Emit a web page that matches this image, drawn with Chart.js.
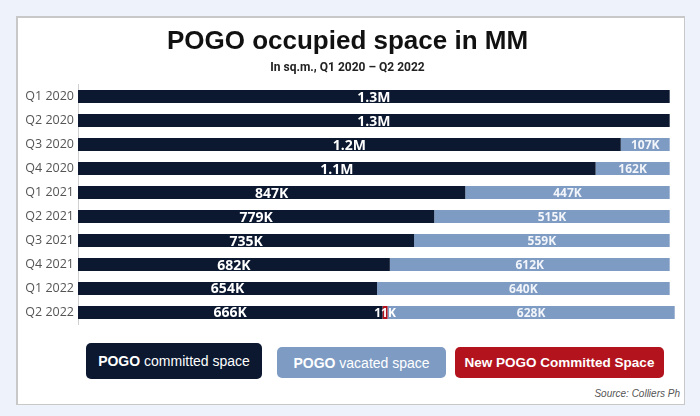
<!DOCTYPE html>
<html>
<head>
<meta charset="utf-8">
<script src="https://cdn.jsdelivr.net/npm/chart.js@4"></script>
<style>
  body { margin: 0; background: #eef2fa; width: 700px; height: 416px; position: relative; overflow: hidden; font-family: "Liberation Sans", Arial, sans-serif; }
  #card { position: absolute; left: 16px; top: 16px; width: 666px; height: 386px; background: #fff; border: 1px solid #c8c8c8; border-top-width: 2px; border-left-width: 2px; }
  #wrap { position: absolute; left: 0; top: 0; width: 666px; height: 318px; }
  .leg { position: absolute; color: #fff; display: flex; align-items: center; justify-content: center; border-radius: 5px; font-size: 14px; }
  #src { position: absolute; right: 4px; top: 370px; font-size: 10px; font-style: italic; color: #555; }
</style>
</head>
<body>
<div id="card">
  <div id="wrap"><canvas id="grafico"></canvas></div>
  <div class="leg" style="left:68px; top:325px; width:176px; height:36px; background:#0b1830;"><b>POGO</b>&nbsp;committed space</div>
  <div class="leg" style="left:259px; top:329px; width:169px; height:31px; background:#7e9bc3;"><b>POGO</b>&nbsp;vacated space</div>
  <div class="leg" style="left:437px; top:329px; width:209px; height:31px; background:#b3131d; font-weight:bold; font-size:13.5px;">New POGO Committed Space</div>
  <div id="src">Source: Colliers Ph</div>
</div>
<script>
var trimestres = ['Q1 2020', 'Q2 2020', 'Q3 2020', 'Q4 2020', 'Q1 2021', 'Q2 2021', 'Q3 2021', 'Q4 2021', 'Q1 2022', 'Q2 2022'];

// valores em milhares de m2
var comprometido = [1294, 1294, 1187, 1132, 847, 779, 735, 682, 654, 666];
var novo = [0, 0, 0, 0, 0, 0, 0, 0, 0, 11];
var desocupado = [0, 0, 107, 162, 447, 515, 559, 612, 640, 628];

var rotulosComprometido = ['1.3M', '1.3M', '1.2M', '1.1M', '847K', '779K', '735K', '682K', '654K', '666K'];
var rotulosNovo = ['', '', '', '', '', '', '', '', '', '11K'];
var rotulosDesocupado = ['', '', '107K', '162K', '447K', '515K', '559K', '612K', '640K', '628K'];

// desenha os rotulos no meio de cada barra
var rotulos = {
    id: 'rotulos',
    afterDatasetsDraw: function (chart) {
        var ctx = chart.ctx;
        chart.data.datasets.forEach(function (ds, i) {
            var meta = chart.getDatasetMeta(i);
            meta.data.forEach(function (bar, j) {
                var txt = ds.rotulos[j];
                if (!txt) return;
                var c = bar.getCenterPoint();
                ctx.save();
                ctx.font = ds.fonte;
                ctx.fillStyle = ds.corTexto;
                ctx.textAlign = 'center';
                ctx.textBaseline = 'middle';
                ctx.fillText(txt, c.x, c.y + 1);
                ctx.restore();
            });
        });
    }
};

new Chart(document.getElementById('grafico'), {
    type: 'bar',
    data: {
        labels: trimestres,
        datasets: [{
            label: 'POGO committed space',
            data: comprometido,
            backgroundColor: '#0b1830',
            rotulos: rotulosComprometido,
            fonte: 'bold 14px "Open Sans"',
            corTexto: '#ffffff'
        }, {
            label: 'New POGO Committed Space',
            data: novo,
            backgroundColor: '#b3131d',
            rotulos: rotulosNovo,
            fonte: 'bold 12px "Open Sans"',
            corTexto: '#ffffff'
        }, {
            label: 'POGO vacated space',
            data: desocupado,
            backgroundColor: '#7e9bc3',
            rotulos: rotulosDesocupado,
            fonte: 'bold 12px "Open Sans"',
            corTexto: '#f2f5fa'
        }]
    },
    options: {
        indexAxis: 'y',
        responsive: true,
        maintainAspectRatio: false,
        animation: false,
        layout: { padding: { left: 0, right: 7, bottom: 7, top: 0 } },
        datasets: { bar: { categoryPercentage: 1, barPercentage: 0.54 } },
        scales: {
            x: { stacked: true, display: false, min: 0, max: 1310 },
            y: {
                stacked: true,
                grid: { display: false, drawTicks: false },
                border: { display: true, color: '#d0d0d0' },
                ticks: { color: '#555', font: { family: 'Open Sans', size: 12.5 }, padding: 4 },
                afterFit: function (s) { s.width = 60; }
            }
        },
        plugins: {
            legend: { display: false },
            tooltip: { enabled: false },
            title: {
                display: true,
                text: 'POGO occupied space in MM',
                color: '#111',
                font: { family: 'Liberation Sans', size: 26, weight: 'bold' },
                padding: { top: 8, bottom: 4 }
            },
            subtitle: {
                display: true,
                text: 'In sq.m., Q1 2020 – Q2 2022',
                color: '#222',
                font: { family: 'Roboto', size: 12, weight: 'bold' },
                padding: { top: 0, bottom: 9 }
            }
        }
    },
    plugins: [rotulos]
});
</script>
</body>
</html>
